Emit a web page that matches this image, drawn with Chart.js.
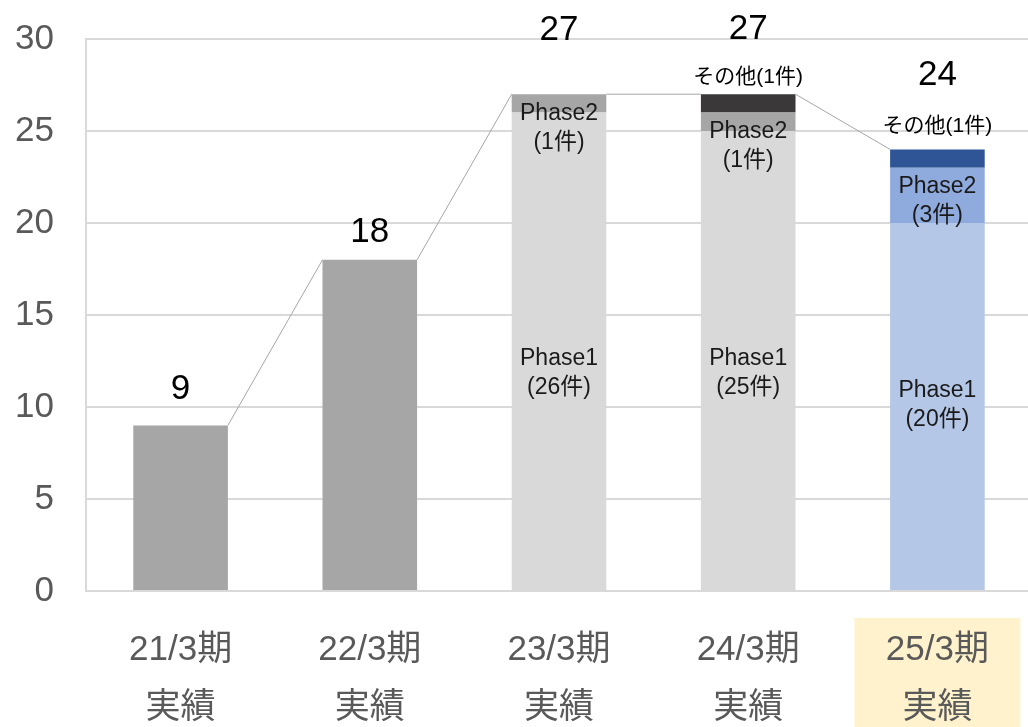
<!DOCTYPE html>
<html>
<head>
<meta charset="utf-8">
<script src="https://cdn.jsdelivr.net/npm/chart.js@4"></script>
<style>
  html, body { margin: 0; padding: 0; background: #fff; overflow: hidden; }
  canvas { display: block; }
</style>
</head>
<body>
<canvas id="myChart" width="1032" height="727"></canvas>
<script>
// data
const periods = [['21/3期', '実績'], ['22/3期', '実績'], ['23/3期', '実績'], ['24/3期', '実績'], ['25/3期', '実績']];
const actual = [9, 18, null, null, null];
const phase1 = [null, null, 26, 25, 20];
const phase2 = [null, null, 1, 1, 3];
const others = [null, null, 0, 1, 1];
const totals = [9, 18, 27, 27, 24];
const phase1Labels = ['', '', '(26件)', '(25件)', '(20件)'];
const phase2Labels = ['', '', '(1件)', '(1件)', '(3件)'];
const otherLabels = ['', '', '', 'その他(1件)', 'その他(1件)'];
const yTicks = [0, 5, 10, 15, 20, 25, 30];

const LATIN = '"Liberation Sans", Arial, "Noto Sans CJK JP", sans-serif';
const highlightIndex = 4;

// label nudges (px)
const totalLift = [36, 27, 64, 65, 74];
const phase1Shift = [0, 0, 21, 12, -2];
const otherLift = [0, 0, 0, 17, 23];

const barLabels = {
    id: 'barLabels',
    beforeDraw(chart) {
        const { ctx, scales: { x, y } } = chart;
        // yellow highlight behind the last category label
        const cx = x.getPixelForValue(highlightIndex);
        ctx.save();
        ctx.fillStyle = '#fff2cc';
        ctx.fillRect(cx - 83, y.bottom + 27, 166, chart.height - y.bottom - 27);
        ctx.restore();
    },
    afterDatasetsDraw(chart) {
        const { ctx, scales: { x, y } } = chart;
        const step = x.getPixelForValue(1) - x.getPixelForValue(0);
        const half = step * 0.5 / 2;
        ctx.save();

        // connector lines between bar tops
        ctx.strokeStyle = '#a6a6a6';
        ctx.lineWidth = 1;
        for (let i = 0; i < totals.length - 1; i++) {
            ctx.beginPath();
            ctx.moveTo(x.getPixelForValue(i) + half, y.getPixelForValue(totals[i]));
            ctx.lineTo(x.getPixelForValue(i + 1) - half, y.getPixelForValue(totals[i + 1]));
            ctx.stroke();
        }

        ctx.textAlign = 'center';
        ctx.textBaseline = 'middle';

        totals.forEach((t, i) => {
            const px = x.getPixelForValue(i);
            ctx.fillStyle = '#000';
            ctx.font = '35px ' + LATIN;
            ctx.fillText(String(t), px, y.getPixelForValue(t) - totalLift[i]);

            if (phase1[i] != null) {
                const mid = y.getPixelForValue(phase1[i] / 2) + phase1Shift[i];
                ctx.font = '23px ' + LATIN;
                ctx.fillStyle = '#1a1a1a';
                ctx.fillText('Phase1', px, mid - 14);
                ctx.fillText(phase1Labels[i], px, mid + 15);
            }
            if (phase2[i] != null) {
                const top = y.getPixelForValue(phase1[i] + phase2[i]);
                ctx.font = '23px ' + LATIN;
                ctx.fillStyle = '#1a1a1a';
                ctx.fillText('Phase2', px, top + 19);
                ctx.fillText(phase2Labels[i], px, top + 48);
            }
            if (otherLabels[i]) {
                ctx.font = '21px ' + LATIN;
                ctx.fillStyle = '#000';
                ctx.fillText(otherLabels[i], px, y.getPixelForValue(t) - otherLift[i]);
            }
        });
        ctx.restore();
    }
};

const ctx = document.getElementById('myChart');

new Chart(ctx, {
    type: 'bar',
    data: {
        labels: periods,
        datasets: [
            { label: '実績', data: actual, backgroundColor: '#a6a6a6' },
            { label: 'Phase1', data: phase1, backgroundColor: ['#d9d9d9', '#d9d9d9', '#d9d9d9', '#d9d9d9', '#b4c7e7'] },
            { label: 'Phase2', data: phase2, backgroundColor: ['#a6a6a6', '#a6a6a6', '#a6a6a6', '#a6a6a6', '#8faadc'] },
            { label: 'その他', data: others, backgroundColor: ['#3a3838', '#3a3838', '#3a3838', '#3a3838', '#2f5597'] }
        ]
    },
    options: {
        responsive: false,
        animation: false,
        barPercentage: 0.5,
        categoryPercentage: 1,
        layout: { padding: { top: 39, right: 0, bottom: 0, left: 0 } },
        plugins: {
            legend: { display: false },
            tooltip: { enabled: false }
        },
        scales: {
            x: {
                stacked: true,
                grid: { display: false, drawTicks: false },
                border: { display: true, color: '#d9d9d9', width: 2 },
                ticks: {
                    color: '#595959',
                    font: { family: LATIN, size: 35, lineHeight: 1.66 },
                    padding: 30,
                    maxRotation: 0
                },
                afterFit(scale) {
                    scale.height = 136;
                    scale.paddingLeft = 0;
                    scale.paddingRight = 0;
                }
            },
            y: {
                stacked: true,
                min: 0,
                max: 30,
                afterBuildTicks(scale) { scale.ticks = yTicks.map(v => ({ value: v })); },
                grid: { color: '#d9d9d9', lineWidth: 2, drawTicks: false },
                border: { display: true, color: '#d9d9d9', width: 2 },
                ticks: {
                    color: '#595959',
                    font: { family: LATIN, size: 35 },
                    padding: 32
                },
                afterFit(scale) {
                    scale.width = 86;
                    scale.paddingTop = 0;
                    scale.paddingBottom = 0;
                }
            }
        }
    },
    plugins: [barLabels]
});
</script>
</body>
</html>
